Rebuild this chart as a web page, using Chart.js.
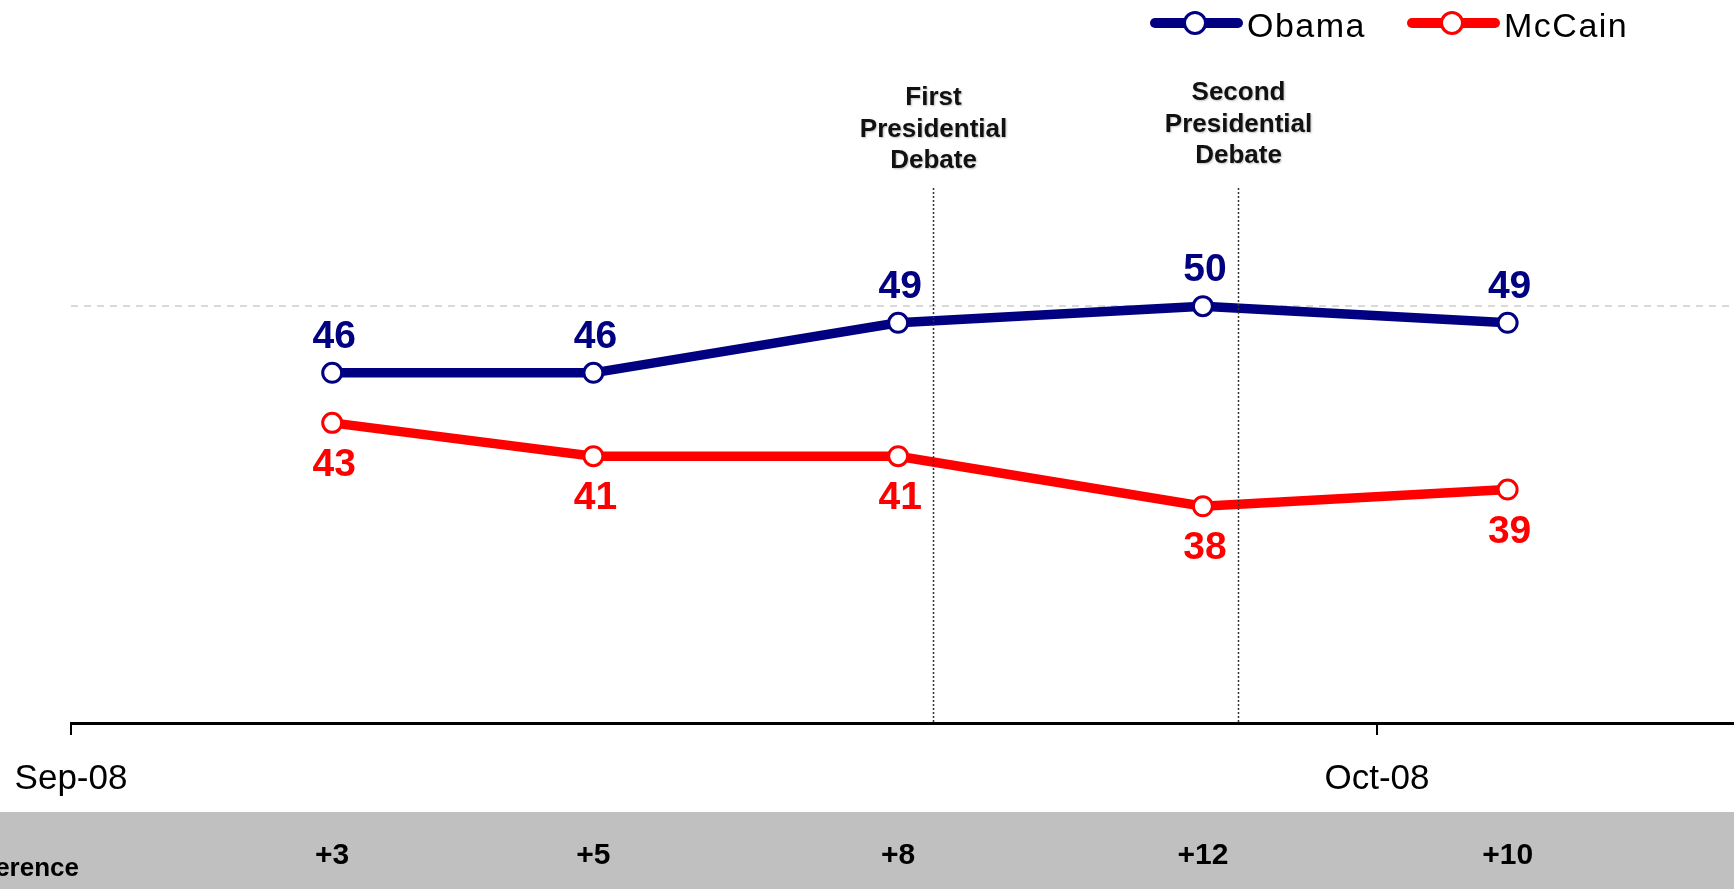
<!DOCTYPE html>
<html>
<head>
<meta charset="utf-8">
<script src="https://cdn.jsdelivr.net/npm/chart.js@4.4.1/dist/chart.umd.min.js"></script>
<style>
html,body{margin:0;padding:0;background:#fff;overflow:hidden}
#wrap{width:1734px;height:889px;position:relative}
</style>
</head>
<body>
<div id="wrap"><canvas id="c" width="1734" height="889"></canvas></div>
<script>
// ---- data ----
const pollDates = ['2008-09-07', '2008-09-13', '2008-09-20', '2008-09-27', '2008-10-04'];
const obama = [46, 46, 49, 50, 49];
const mccain = [43, 41, 41, 38, 39];
const difference = ['+3', '+5', '+8', '+12', '+10'];
const differenceTitle = 'Difference';
const monthTicks = ['2008-09-01', '2008-10-01'];
const monthLabels = ['Sep-08', 'Oct-08'];
const debateDates = ['2008-09-20T19:00', '2008-09-27T19:30'];
const debateLabels = [['First', 'Presidential', 'Debate'], ['Second', 'Presidential', 'Debate']];
const seriesNames = ['Obama', 'McCain'];
const referenceLevel = 50;

// ---- helpers ----
const FONT = '"Liberation Sans", Arial, Helvetica, sans-serif';
const ORIGIN = Date.parse('2008-09-01T00:00:00Z');
const toDay = s => (Date.parse(s.length === 10 ? s + 'T00:00:00Z' : s + 'Z') - ORIGIN) / 86400000;
const pts = arr => pollDates.map((d, i) => ({x: toDay(d), y: arr[i]}));

const bandPlugin = {
  id: 'band',
  beforeDraw(chart) {
    const {ctx, width, height} = chart;
    const xs = chart.scales.x;
    ctx.save();
    ctx.fillStyle = '#c0c0c0';
    ctx.fillRect(0, 812, width, height - 812);
    ctx.fillStyle = '#000';
    ctx.font = 'bold 30px ' + FONT;
    ctx.textAlign = 'center';
    ctx.textBaseline = 'alphabetic';
    pollDates.forEach((d, i) => {
      ctx.fillText(difference[i], xs.getPixelForValue(toDay(d)), 864);
    });
    ctx.font = 'bold 26px ' + FONT;
    ctx.textAlign = 'right';
    ctx.fillText(differenceTitle, 79, 876);
    ctx.restore();
  }
};

const debatePlugin = {
  id: 'debates',
  afterDatasetsDraw(chart) {
    const {ctx, chartArea} = chart;
    const xs = chart.scales.x;
    ctx.save();
    debateDates.forEach((d, i) => {
      const x = Math.round(xs.getPixelForValue(toDay(d))) + 0.5;
      ctx.strokeStyle = '#333';
      ctx.lineWidth = 1.5;
      ctx.setLineDash([2, 2]);
      ctx.beginPath();
      ctx.moveTo(x, 188);
      ctx.lineTo(x, chartArea.bottom);
      ctx.stroke();
      ctx.setLineDash([]);
      ctx.font = 'bold 26px ' + FONT;
      ctx.textAlign = 'center';
      ctx.textBaseline = 'alphabetic';
      ctx.fillStyle = '#111';
      ctx.shadowColor = 'rgba(0,0,0,0.25)';
      ctx.shadowBlur = 2;
      ctx.shadowOffsetX = 1;
      ctx.shadowOffsetY = 1;
      const lines = debateLabels[i];
      const base = 168 - i * 5;
      lines.forEach((t, k) => {
        ctx.fillText(t, x, base - (lines.length - 1 - k) * 31.5);
      });
      ctx.shadowColor = 'transparent';
    });
    ctx.restore();
  }
};

const valueLabelPlugin = {
  id: 'valueLabels',
  afterDatasetsDraw(chart) {
    const {ctx} = chart;
    ctx.save();
    ctx.font = 'bold 39px ' + FONT;
    ctx.textAlign = 'center';
    ctx.textBaseline = 'alphabetic';
    chart.data.datasets.forEach((ds, i) => {
      const meta = chart.getDatasetMeta(i);
      ctx.fillStyle = ds.borderColor;
      meta.data.forEach((el, j) => {
        const off = ds.labelSide === 'above' ? -25 : 53;
        ctx.fillText(String(ds.data[j].y), el.x + 2, el.y + off);
      });
    });
    ctx.restore();
  }
};

const legendPlugin = {
  id: 'customLegend',
  afterDraw(chart) {
    const {ctx} = chart;
    const items = [{x0: 1150}, {x0: 1407}];
    ctx.save();
    chart.data.datasets.forEach((ds, i) => {
      const x0 = items[i].x0, y = 23;
      ctx.strokeStyle = ds.borderColor;
      ctx.lineWidth = 10;
      ctx.lineCap = 'round';
      ctx.beginPath();
      ctx.moveTo(x0 + 5, y);
      ctx.lineTo(x0 + 88, y);
      ctx.stroke();
      ctx.beginPath();
      ctx.arc(x0 + 45, y, 10.5, 0, Math.PI * 2);
      ctx.fillStyle = '#fff';
      ctx.fill();
      ctx.lineWidth = 3;
      ctx.stroke();
      ctx.fillStyle = '#000';
      ctx.font = '34px ' + FONT;
      ctx.letterSpacing = '1.5px';
      ctx.textAlign = 'left';
      ctx.textBaseline = 'alphabetic';
      ctx.fillText(ds.label, x0 + 97, 37);
      ctx.letterSpacing = '0px';
    });
    ctx.restore();
  }
};

new Chart(document.getElementById('c'), {
  type: 'line',
  data: {
    datasets: [
      {
        label: seriesNames[0], data: pts(obama), labelSide: 'above',
        borderColor: '#000080', backgroundColor: '#ffffff',
        borderWidth: 9.5, pointRadius: 9.5, pointBorderWidth: 3,
        pointBackgroundColor: '#ffffff', pointBorderColor: '#000080', tension: 0
      },
      {
        label: seriesNames[1], data: pts(mccain), labelSide: 'below',
        borderColor: '#ff0000', backgroundColor: '#ffffff',
        borderWidth: 9.5, pointRadius: 9.5, pointBorderWidth: 3,
        pointBackgroundColor: '#ffffff', pointBorderColor: '#ff0000', tension: 0
      }
    ]
  },
  options: {
    responsive: false,
    animation: false,
    events: [],
    layout: {padding: {left: 71, right: 0, top: 6, bottom: 0}, autoPadding: false},
    plugins: {legend: {display: false}, tooltip: {enabled: false}},
    scales: {
      x: {
        type: 'linear', min: 0, max: 38.2, position: 'bottom',
        afterBuildTicks: s => { s.ticks = monthTicks.map(d => ({value: toDay(d)})); },
        afterFit: s => { s.height = 166; s.paddingLeft = 0; s.paddingRight = 0; },
        ticks: {
          callback: v => { const i = monthTicks.findIndex(d => Math.abs(toDay(d) - v) < 1e-6); return i >= 0 ? monthLabels[i] : ''; },
          font: {family: FONT, size: 35}, color: '#000', padding: 23,
          maxRotation: 0, minRotation: 0, autoSkip: false
        },
        grid: {display: true, drawOnChartArea: false, drawTicks: true, tickLength: 12, color: '#000', lineWidth: 2},
        border: {display: true, color: '#000', width: 3}
      },
      y: {
        min: 25, max: 68,
        afterBuildTicks: s => { s.ticks = [{value: referenceLevel}]; },
        afterFit: s => { s.width = 0; s.paddingTop = 0; s.paddingBottom = 0; },
        ticks: {display: false},
        grid: {color: '#d9d9d9', lineWidth: 2, drawTicks: false},
        border: {display: false, dash: [7, 6]}
      }
    }
  },
  plugins: [bandPlugin, debatePlugin, valueLabelPlugin, legendPlugin]
});
</script>
</body>
</html>
